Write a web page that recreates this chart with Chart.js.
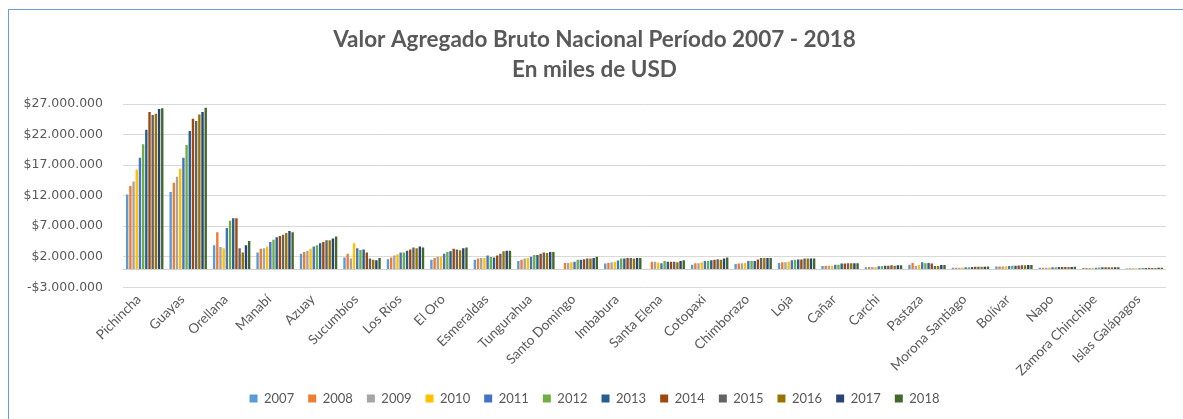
<!DOCTYPE html>
<html>
<head>
<meta charset="utf-8">
<script src="https://cdn.jsdelivr.net/npm/chart.js@4/dist/chart.umd.min.js"></script>
<style>
  html, body { margin: 0; padding: 0; background: #fff; }
  #wrap { position: relative; width: 1183px; height: 419px; }
  #frame { position: absolute; left: 8px; top: 9px; right: 0; bottom: 0; border-left: 1px solid #6a9fd6; border-top: 1px solid #6a9fd6; pointer-events: none; }
  canvas { position: absolute; left: 0; top: 0; }
</style>
</head>
<body>
<div id="wrap">
  <canvas id="c" width="1183" height="419"></canvas>
  <div id="frame"></div>
</div>
<script>
// valores en millones (miles de USD)
const PROVINCIAS = ['Pichincha', 'Guayas', 'Orellana', 'Manabí', 'Azuay', 'Sucumbíos', 'Los Ríos', 'El Oro', 'Esmeraldas', 'Tungurahua', 'Santo Domingo', 'Imbabura', 'Santa Elena', 'Cotopaxi', 'Chimborazo', 'Loja', 'Cañar', 'Carchi', 'Pastaza', 'Morona Santiago', 'Bolívar', 'Napo', 'Zamora Chinchipe', 'Islas Galápagos'];
const Y2007 = [12.2, 12.6, 3.9, 2.7, 2.5, 1.9, 1.6, 1.5, 1.5, 1.3, 0, 0.9, 0, 0.7, 0.8, 1.0, 0.5, 0.28, 0.7, 0.2, 0.4, 0.2, 0.15, 0.1];
const Y2008 = [13.6, 14.1, 6.0, 3.3, 2.8, 2.5, 1.9, 1.8, 1.7, 1.5, 1.0, 1.0, 1.2, 0.95, 0.9, 1.1, 0.55, 0.33, 1.0, 0.22, 0.42, 0.22, 0.17, 0.11];
const Y2009 = [14.3, 15.1, 3.6, 3.4, 3.0, 1.7, 2.2, 2.0, 1.8, 1.7, 1.0, 1.1, 1.2, 0.95, 0.95, 1.1, 0.55, 0.33, 0.55, 0.22, 0.42, 0.22, 0.17, 0.12];
const Y2010 = [16.3, 16.4, 3.4, 3.7, 3.3, 4.2, 2.4, 2.05, 1.8, 1.8, 1.1, 1.2, 1.05, 1.1, 1.0, 1.2, 0.55, 0.33, 0.67, 0.25, 0.45, 0.25, 0.2, 0.13];
const Y2011 = [18.2, 18.2, 6.7, 4.4, 3.7, 3.4, 2.7, 2.5, 2.2, 2.0, 1.2, 1.4, 0.95, 1.3, 1.3, 1.45, 0.7, 0.45, 1.1, 0.28, 0.5, 0.28, 0.22, 0.14];
const Y2012 = [20.4, 20.3, 7.9, 4.8, 3.9, 3.1, 2.7, 2.8, 1.95, 2.3, 1.5, 1.7, 1.3, 1.3, 1.3, 1.5, 0.7, 0.5, 0.95, 0.3, 0.52, 0.3, 0.25, 0.15];
const Y2013 = [22.8, 22.6, 8.3, 5.2, 4.2, 3.2, 3.0, 2.9, 1.9, 2.3, 1.5, 1.7, 1.2, 1.45, 1.3, 1.55, 0.9, 0.55, 1.0, 0.32, 0.55, 0.32, 0.27, 0.16];
const Y2014 = [25.7, 24.6, 8.3, 5.4, 4.4, 2.7, 3.2, 3.3, 2.2, 2.5, 1.6, 1.8, 1.2, 1.5, 1.55, 1.55, 0.9, 0.55, 0.9, 0.35, 0.58, 0.33, 0.28, 0.17];
const Y2015 = [25.2, 24.2, 3.4, 5.6, 4.7, 1.7, 3.5, 3.2, 2.5, 2.7, 1.7, 1.8, 1.2, 1.6, 1.8, 1.7, 0.95, 0.6, 0.5, 0.35, 0.6, 0.33, 0.28, 0.18];
const Y2016 = [25.4, 25.3, 2.7, 5.9, 4.7, 1.5, 3.4, 3.05, 2.9, 2.6, 1.7, 1.7, 1.1, 1.5, 1.8, 1.7, 0.95, 0.55, 0.5, 0.35, 0.6, 0.32, 0.27, 0.18];
const Y2017 = [26.2, 25.7, 3.9, 6.2, 5.0, 1.45, 3.7, 3.4, 3.0, 2.8, 1.8, 1.8, 1.3, 1.7, 1.8, 1.7, 0.95, 0.6, 0.67, 0.37, 0.65, 0.33, 0.28, 0.19];
const Y2018 = [26.3, 26.4, 4.6, 6.0, 5.3, 1.8, 3.5, 3.5, 3.0, 2.8, 2.0, 1.8, 1.45, 1.9, 1.8, 1.7, 0.95, 0.6, 0.67, 0.4, 0.65, 0.35, 0.3, 0.2];
const ANIOS = ['2007', '2008', '2009', '2010', '2011', '2012', '2013', '2014', '2015', '2016', '2017', '2018'];
const SERIES = [Y2007, Y2008, Y2009, Y2010, Y2011, Y2012, Y2013, Y2014, Y2015, Y2016, Y2017, Y2018];
const COLORES = ['#5b9bd5', '#ed7d31', '#a5a5a5', '#ffc000', '#4472c4', '#70ad47', '#255e91', '#9e480e', '#636363', '#997300', '#264478', '#43682b'];
const Y_TICKS = [-3, 2, 7, 12, 17, 22, 27];
const Y_TICK_LABELS = ['-$3.000.000', '$2.000.000', '$7.000.000', '$12.000.000', '$17.000.000', '$22.000.000', '$27.000.000'];

const FONT = 'Lato, "Open Sans", sans-serif';
const GRIS = '#595959';

// linea del eje horizontal en 0 (como en Excel)
const zeroLine = {
  id: 'zeroLine',
  beforeDatasetsDraw(chart) {
    const { ctx, chartArea: a, scales: { y } } = chart;
    const py = Math.round(y.getPixelForValue(0)) + 0.5;
    ctx.save();
    ctx.strokeStyle = '#d0d0d0'; ctx.lineWidth = 1;
    ctx.beginPath(); ctx.moveTo(a.left, py); ctx.lineTo(a.right, py); ctx.stroke();
    ctx.restore();
  }
};

new Chart(document.getElementById('c'), {
  type: 'bar',
  data: {
    labels: PROVINCIAS,
    datasets: ANIOS.map((a, i) => ({ label: a, data: SERIES[i], backgroundColor: COLORES[i], borderWidth: 0 }))
  },
  options: {
    responsive: false, animation: false, devicePixelRatio: 1,
    datasets: { bar: { categoryPercentage: 0.88, barPercentage: 0.75 } },
    layout: { padding: { left: 23, right: 17, top: 8, bottom: 4 } },
    plugins: {
      title: {
        display: true, text: ['Valor Agregado Bruto Nacional Período 2007 - 2018', 'En miles de USD'],
        color: GRIS, font: { family: FONT, size: 22.5, weight: 'bold', lineHeight: '30px' }, padding: { top: 17, bottom: 19 }
      },
      legend: {
        position: 'bottom',
        labels: { color: GRIS, font: { family: FONT, size: 13 }, boxWidth: 8, boxHeight: 8, padding: 14 }
      },
      tooltip: { enabled: false }
    },
    scales: {
      x: {
        grid: { display: false }, border: { display: false },
        // Chart.js sobreestima el alto de las etiquetas giradas
        afterFit: s => { s.height += 3; s.paddingLeft = 0; s.paddingRight = 0; },
        ticks: { color: GRIS, font: { family: FONT, size: 13.5 }, minRotation: 45, maxRotation: 45, autoSkip: false, padding: -4, labelOffset: -6 }
      },
      y: {
        min: -3, max: 27,
        afterBuildTicks: s => { s.ticks = Y_TICKS.map(v => ({ value: v })); },
        afterFit: s => { s.width = 100; s.paddingTop = 0; s.paddingBottom = 0; },
        grid: { color: '#d9d9d9', drawTicks: false }, border: { display: false },
        ticks: { color: GRIS, font: { family: '"DejaVu Sans", sans-serif', size: 12.5 }, padding: 20, callback: v => Y_TICK_LABELS[Y_TICKS.indexOf(v)] }
      }
    }
  },
  plugins: [zeroLine]
});
</script>
</body>
</html>
